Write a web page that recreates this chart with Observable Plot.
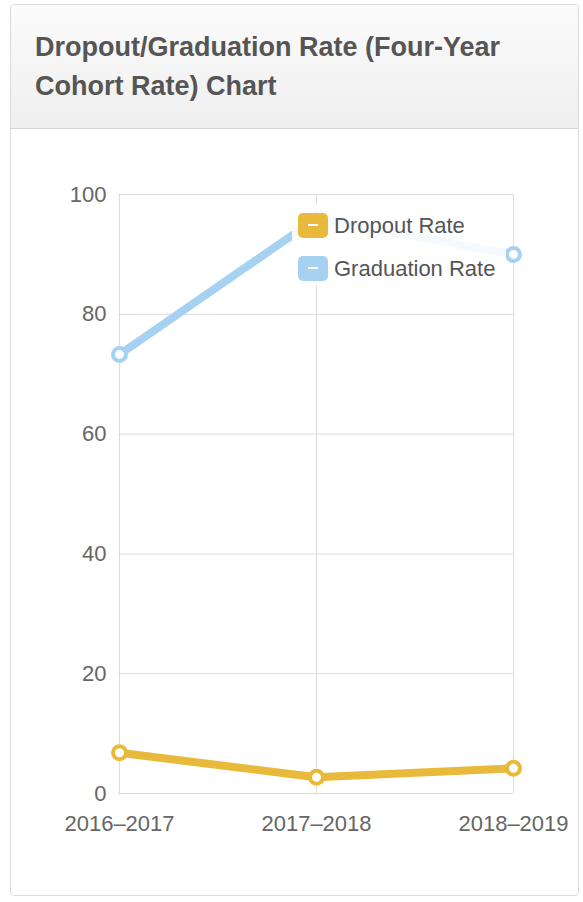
<!DOCTYPE html>
<html>
<head>
<meta charset="utf-8">
<script src="https://cdn.jsdelivr.net/npm/d3@7"></script>
<script src="https://cdn.jsdelivr.net/npm/@observablehq/plot@0.6"></script>
<style>
  html, body { margin: 0; padding: 0; background: #fff; }
  body { width: 583px; height: 902px; position: relative; overflow: hidden; font-family: "Liberation Sans", Arial, Helvetica, sans-serif; }
  .panel { position: absolute; left: 10px; top: 4px; width: 569px; height: 892px; border: 1px solid #dcdcdc; border-radius: 4px; box-sizing: border-box; background: #fff; }
  .header { position: absolute; left: 0; top: 0; right: 0; height: 123px; background: linear-gradient(#fbfbfb, #efefef); border-bottom: 1px solid #d6d6d6; border-radius: 4px 4px 0 0; }
  .title { position: absolute; left: 24px; top: 23px; font-size: 27px; font-weight: bold; color: #555; line-height: 39px; white-space: nowrap; }
  #chart { position: absolute; left: 0; top: 130px; }
  #chart svg { overflow: visible; }
  .legend { position: absolute; left: 292px; top: 204px; width: 214px; height: 82px; background: rgba(255,255,255,0.88); }
  .item { position: absolute; left: 6px; height: 25px; font-size: 22px; color: #555; line-height: 25px; white-space: nowrap; }
  .sw { display: inline-block; width: 30px; height: 25px; border-radius: 5px; vertical-align: top; margin-right: 6px; position: relative; }
  .sw::after { content: ""; position: absolute; left: 10px; top: 11px; width: 10px; height: 2px; background: #fff; }
</style>
</head>
<body>
<div class="panel">
  <div class="header"><div class="title">Dropout/Graduation Rate (Four-Year<br>Cohort Rate) Chart</div></div>
</div>
<div id="chart"></div>
<div class="legend">
  <div class="item" style="top:9px"><span class="sw" style="background:#e8b93a"></span>Dropout Rate</div>
  <div class="item" style="top:52px"><span class="sw" style="background:#a6d1f1"></span>Graduation Rate</div>
</div>
<script>
const years = ["2016–2017", "2017–2018", "2018–2019"];
const dropoutRate = [6.8, 2.7, 4.2];
const graduationRate = [73.3, 96.0, 90.0];
const yTicks = [0, 20, 40, 60, 80, 100];
const seriesNames = ["Dropout Rate", "Graduation Rate"];
const seriesColors = ["#e8b93a", "#a6d1f1"];

const rows = [];
years.forEach((y, i) => {
  rows.push({year: y, series: seriesNames[0], value: dropoutRate[i]});
  rows.push({year: y, series: seriesNames[1], value: graduationRate[i]});
});

const chart = Plot.plot({
  width: 583,
  height: 740,
  marginLeft: 118,
  marginRight: 70,
  marginTop: 64,
  marginBottom: 77,
  style: {fontFamily: "'Liberation Sans', Arial, sans-serif", fontSize: "22px", color: "#666", background: "transparent"},
  x: {type: "point", domain: years, padding: 0, label: null},
  y: {domain: [0, 100], ticks: yTicks, label: null},
  color: {domain: seriesNames, range: seriesColors},
  marks: [
    Plot.ruleY(yTicks, {stroke: "#dcdcdc", strokeOpacity: 1, strokeWidth: 1}),
    Plot.ruleX(years, {stroke: "#dcdcdc", strokeOpacity: 1, strokeWidth: 1}),
    Plot.axisY({ticks: yTicks, tickSize: 0, tickPadding: 12, fill: "#666", label: null, fontSize: 22}),
    Plot.axisX({tickSize: 0, tickPadding: 22, fill: "#666", label: null, fontSize: 22}),
    Plot.line(rows, {x: "year", y: "value", z: "series", stroke: "series", strokeWidth: 8, strokeLinejoin: "round", strokeLinecap: "round", style: "filter: drop-shadow(0px 2px 2px rgba(0,0,0,0.15))"}),
    Plot.dot(rows, {x: "year", y: "value", stroke: "series", fill: "white", r: 6.5, strokeWidth: 4})
  ]
});
document.getElementById("chart").appendChild(chart);
</script>
</body>
</html>
